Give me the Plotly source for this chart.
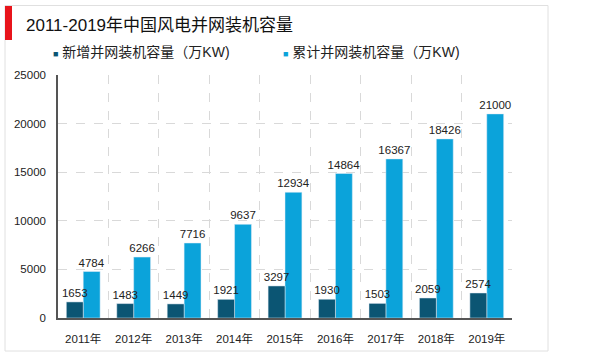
import plotly.graph_objects as go

years = ["2011年", "2012年", "2013年", "2014年", "2015年", "2016年", "2017年", "2018年", "2019年"]
new_capacity = [1653, 1483, 1449, 1921, 3297, 1930, 1503, 2059, 2574]
cum_capacity = [4784, 6266, 7716, 9637, 12934, 14864, 16367, 18426, 21000]
series_names = ["新增并网装机容量（万KW)", "累计并网装机容量（万KW)"]
title_text = "2011-2019年中国风电并网装机容量"
y_ticks = [0, 5000, 10000, 15000, 20000, 25000]

FONT = "Liberation Sans, Arial, Noto Sans CJK SC, sans-serif"
DARK = "#0b5573"
LIGHT = "#0ba3da"
BW = 0.335
FS = 11.5

fig = go.Figure()
# light (cumulative) bars drawn first so the dark bars' labels sit on top
fig.add_trace(go.Bar(x=years, y=cum_capacity, name=series_names[1], marker_color=LIGHT,
                     offset=0, width=BW, showlegend=False,
                     text=cum_capacity, textposition="outside", cliponaxis=False,
                     constraintext="none",
                     textfont=dict(size=FS, color="#222", family=FONT)))
fig.add_trace(go.Bar(x=years, y=new_capacity, name=series_names[0], marker_color=DARK,
                     offset=-BW, width=BW, showlegend=False,
                     text=new_capacity, textposition="outside", cliponaxis=False,
                     constraintext="none",
                     textfont=dict(size=FS, color="#222", family=FONT)))

PW, PH, L, T = 454, 243, 58, 75
def px(x):
    return (x - L) / PW
def py(y):
    return (T + PH - y) / PH

legend_items = [(series_names[0], DARK, 51), (series_names[1], LIGHT, 281)]
annotations = [
    dict(text=title_text, xref="paper", yref="paper", x=px(24), y=py(25),
         xanchor="left", yanchor="middle", showarrow=False,
         font=dict(size=17, color="#111", family=FONT)),
]
for name, color, x0 in legend_items:
    annotations.append(dict(
        text=f"<span style='font-size:9px;color:{color}'>■</span> {name}",
        xref="paper", yref="paper", x=px(x0), y=py(52),
        xanchor="left", yanchor="middle", showarrow=False,
        font=dict(size=14, color="#222", family=FONT)))

fig.update_layout(
    width=600, height=354,
    margin=dict(l=L, r=600 - L - PW, t=T, b=354 - T - PH, autoexpand=False),
    paper_bgcolor="white", plot_bgcolor="white",
    barmode="overlay",
    font=dict(family=FONT, size=FS, color="#222"),
    showlegend=False,
    xaxis=dict(type="category", tickson="boundaries", showgrid=True, gridcolor="#d9d9d9",
               griddash="dash", gridwidth=1, showline=True, linecolor="#555", linewidth=1.5,
               ticks="", tickfont=dict(size=FS, color="#222"), zeroline=False,
               ticklabelstandoff=9),
    yaxis=dict(range=[0, 25000], tickvals=y_ticks, tickformat="d", showgrid=True, gridcolor="#d9d9d9",
               griddash="dash", gridwidth=1, showline=True, linecolor="#555", linewidth=1.5,
               ticks="", tickfont=dict(size=FS, color="#222"), zeroline=False, ticklabelstandoff=8),
    shapes=[
        dict(type="rect", xref="paper", yref="paper", x0=px(5), x1=px(548),
             y0=py(351), y1=py(5.5), line=dict(color="#e0e0e0", width=1), fillcolor="rgba(0,0,0,0)", layer="below"),
        dict(type="rect", xref="paper", yref="paper", x0=px(5), x1=px(12),
             y0=py(40), y1=py(6), line=dict(width=0), fillcolor="#e8141b"),
    ],
    annotations=annotations,
)
fig.write_html("out.html")
